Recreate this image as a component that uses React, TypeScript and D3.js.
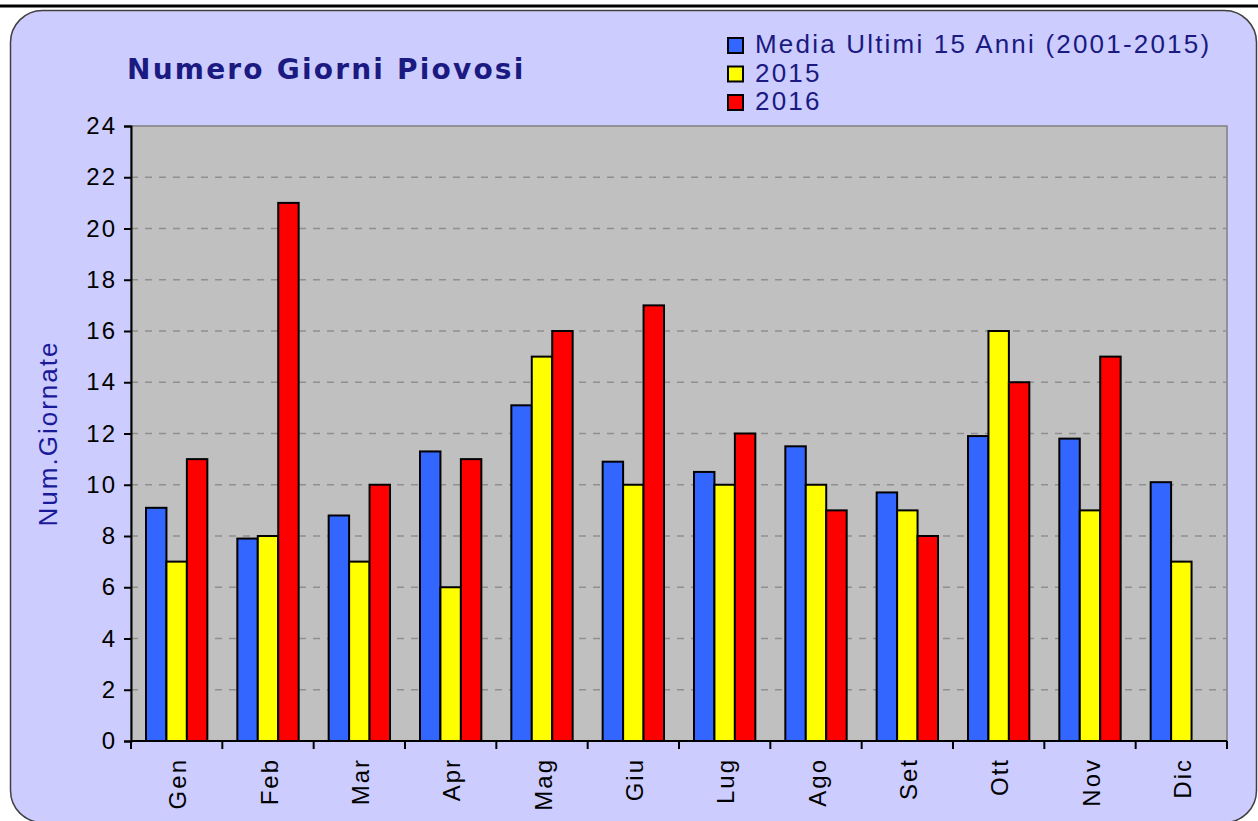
import React, { useRef, useEffect } from 'react'
import * as d3 from 'd3'

const months = ['Gen', 'Feb', 'Mar', 'Apr', 'Mag', 'Giu', 'Lug', 'Ago', 'Set', 'Ott', 'Nov', 'Dic']
const media = [9.1, 7.9, 8.8, 11.3, 13.1, 10.9, 10.5, 11.5, 9.7, 11.9, 11.8, 10.1]
const y2015 = [7, 8, 7, 6, 15, 10, 10, 10, 9, 16, 9, 7]
const y2016 = [11, 21, 10, 11, 16, 17, 12, 9, 8, 14, 15, null]
const seriesNames = ['Media Ultimi 15 Anni (2001-2015)', '2015', '2016']
const seriesColors = ['#3366FF', '#FFFF00', '#FF0000']
const yTicks = [0, 2, 4, 6, 8, 10, 12, 14, 16, 18, 20, 22, 24]

const W = 1258
const H = 821
const FONT = 'Liberation Sans, Arial, sans-serif'

export default function App() {
    const svgRef = useRef<SVGSVGElement>(null)

    useEffect(() => {
        if (!svgRef.current) return
        const svg = d3.select(svgRef.current)
        svg.selectAll('*').remove()

        // sfondo e linea nera in alto
        svg.append('rect').attr('x', 0).attr('y', 0).attr('width', W).attr('height', H).attr('fill', '#fff')
        svg.append('line')
            .attr('x1', 0).attr('x2', W).attr('y1', 6).attr('y2', 6)
            .attr('stroke', '#000').attr('stroke-width', 3)

        // pannello arrotondato
        svg.append('rect')
            .attr('x', 10.5).attr('y', 10.5)
            .attr('width', 1246).attr('height', 812)
            .attr('rx', 32).attr('ry', 32)
            .attr('fill', '#CCCCFF')
            .attr('stroke', '#404040').attr('stroke-width', 1.5)

        const plot = { left: 131, right: 1227, top: 126, bottom: 741 }

        const x = d3.scaleBand<string>().domain(months).range([plot.left, plot.right])
        const inner = d3.scaleBand<number>().domain([0, 1, 2]).range([15, x.bandwidth() - 15]).padding(0)
        const y = d3.scaleLinear().domain([0, 24]).range([plot.bottom, plot.top])

        svg.append('rect')
            .attr('x', plot.left).attr('y', plot.top)
            .attr('width', plot.right - plot.left).attr('height', plot.bottom - plot.top)
            .attr('fill', '#C0C0C0')
            .attr('stroke', '#808080').attr('stroke-width', 1.5)

        // griglia tratteggiata
        svg.append('g')
            .selectAll('line')
            .data(yTicks.filter((t) => t > 0 && t < 24))
            .enter()
            .append('line')
            .attr('x1', plot.left).attr('x2', plot.right)
            .attr('y1', (d) => y(d)).attr('y2', (d) => y(d))
            .attr('stroke', '#8f8f8f').attr('stroke-width', 1.5)
            .attr('stroke-dasharray', '7,7')

        // barre
        const series = [media, y2015, y2016]
        series.forEach((vals, si) => {
            svg.append('g')
                .selectAll('rect')
                .data(vals.map((v, i) => ({ m: months[i], v })).filter((d) => d.v != null))
                .enter()
                .append('rect')
                .attr('x', (d) => x(d.m)! + inner(si)!)
                .attr('y', (d) => y(d.v as number))
                .attr('width', inner.bandwidth())
                .attr('height', (d) => plot.bottom - y(d.v as number))
                .attr('fill', seriesColors[si])
                .attr('stroke', '#000').attr('stroke-width', 2)
        })

        // asse Y
        const yAxis = d3.axisLeft(y).tickValues(yTicks).tickSize(7).tickPadding(7)
        const gy = svg.append('g').attr('transform', `translate(${plot.left},0)`).call(yAxis)
        gy.select('.domain').attr('stroke', '#000').attr('stroke-width', 2)
        gy.selectAll('.tick line').attr('stroke', '#000').attr('stroke-width', 2)
        gy.selectAll('.tick text')
            .attr('font-family', FONT)
            .attr('font-size', 24)
            .attr('letter-spacing', 2)
            .attr('fill', '#000')

        // asse X
        const xTickPos = d3.range(13).map((i) => plot.left + i * x.step())
        svg.append('line')
            .attr('x1', plot.left).attr('x2', plot.right)
            .attr('y1', plot.bottom).attr('y2', plot.bottom)
            .attr('stroke', '#000').attr('stroke-width', 2)
        svg.append('g')
            .selectAll('line')
            .data(xTickPos)
            .enter()
            .append('line')
            .attr('x1', (d) => d).attr('x2', (d) => d)
            .attr('y1', plot.bottom).attr('y2', plot.bottom + 8)
            .attr('stroke', '#000').attr('stroke-width', 2)
        svg.append('g')
            .selectAll('text')
            .data(months)
            .enter()
            .append('text')
            .attr('transform', (d) => `translate(${x(d)! + x.bandwidth() / 2 + 9.5},${plot.bottom + 17}) rotate(-90)`)
            .attr('text-anchor', 'end')
            .attr('font-family', FONT)
            .attr('font-size', 24)
            .attr('letter-spacing', 2)
            .attr('fill', '#000')
            .text((d) => d)

        // etichetta asse Y
        svg.append('text')
            .attr('transform', `translate(57,${(plot.top + plot.bottom) / 2}) rotate(-90)`)
            .attr('text-anchor', 'middle')
            .attr('font-family', FONT)
            .attr('font-size', 26)
            .attr('letter-spacing', 2)
            .attr('fill', '#1a1a99')
            .text('Num.Giornate')

        // titolo
        svg.append('text')
            .attr('x', 127).attr('y', 79)
            .attr('font-family', 'DejaVu Sans, Verdana, sans-serif')
            .attr('font-weight', 'bold')
            .attr('font-size', 28)
            .attr('letter-spacing', 2.2)
            .attr('fill', '#1a1a80')
            .text('Numero Giorni Piovosi')

        // legenda
        const leg = svg.append('g').attr('transform', 'translate(728,38)')
        seriesNames.forEach((name, i) => {
            const row = leg.append('g').attr('transform', `translate(0,${i * 28.5})`)
            row.append('rect')
                .attr('x', 0).attr('y', 0).attr('width', 15).attr('height', 15)
                .attr('fill', seriesColors[i]).attr('stroke', '#000').attr('stroke-width', 2)
            row.append('text')
                .attr('x', 27).attr('y', 15)
                .attr('font-family', FONT)
                .attr('font-size', 26)
                .attr('letter-spacing', 2.2)
                .attr('fill', '#1a1a80')
                .text(name)
        })
    }, [])

    return (
        <div style={{ position: 'absolute', left: 0, top: 0 }}>
            <svg ref={svgRef} width={W} height={H} style={{ display: 'block' }} />
        </div>
    )
}
